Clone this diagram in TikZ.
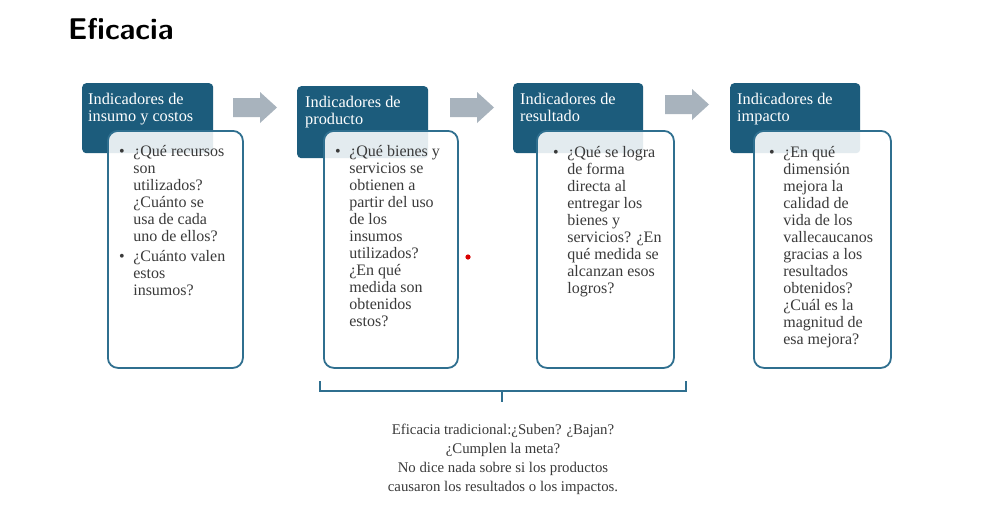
\documentclass[tikz,border=0pt]{standalone}
\usepackage{fontspec}
\newfontfamily\cardfont{Liberation Serif}
\begin{document}
\begin{tikzpicture}[x=1pt,y=-1pt,
  hdr/.style={draw=none,fill=hdrblue,rounded corners=4pt,anchor=north west,inner sep=0pt},
  bodybox/.style={draw=cardline,line width=1.8pt,fill=white,fill opacity=0.88,rounded corners=10pt,anchor=north west,inner sep=0pt},
  hdrtxt/.style={anchor=base west,inner sep=0pt,text=white,font=\cardfont\fontsize{16.3}{17}\selectfont},
  bodytxt/.style={anchor=base west,inner sep=0pt,text=txtgray,font=\cardfont\fontsize{16}{17}\selectfont},
  arrowfill/.style={fill=arrowgray,draw=none},
  bracestyle/.style={draw=cardline,line width=1.8pt}
]
\definecolor{hdrblue}{HTML}{1C5C7C}
\definecolor{cardline}{HTML}{2F6F8F}
\definecolor{arrowgray}{HTML}{A8B3BD}
\definecolor{txtgray}{HTML}{3A3A3A}
\useasboundingbox (0,0) rectangle (981,520);
\fill[white] (0,0) rectangle (981,520);

% title
\node[anchor=base west,inner sep=0pt,font=\fontsize{30}{33}\selectfont\sffamily\bfseries] (title) at (68,39) {Eficacia};

% headers
\node[hdr,minimum width=131pt,minimum height=70pt] (h1) at (82,83) {};
\node[hdr,minimum width=131pt,minimum height=72pt] (h2) at (297,86) {};
\node[hdr,minimum width=130pt,minimum height=70pt] (h3) at (513,83) {};
\node[hdr,minimum width=130pt,minimum height=70pt] (h4) at (730,83) {};

% bodies
\node[bodybox,minimum width=135pt,minimum height=237pt] (b1) at (107,130) {};
\node[bodybox,minimum width=134pt,minimum height=237pt] (b2) at (323,130) {};
\node[bodybox,minimum width=137pt,minimum height=237pt] (b3) at (536,130) {};
\node[bodybox,minimum width=137pt,minimum height=237pt] (b4) at (753,130) {};

% header texts
\node[hdrtxt] (t1) at (88,104) {\begin{tabular}[t]{@{}l@{}}Indicadores de\\insumo y costos\end{tabular}};
\node[hdrtxt] (t2) at (305,107) {\begin{tabular}[t]{@{}l@{}}Indicadores de\\producto\end{tabular}};
\node[hdrtxt] (t3) at (520,104) {\begin{tabular}[t]{@{}l@{}}Indicadores de\\resultado\end{tabular}};
\node[hdrtxt] (t4) at (737,104) {\begin{tabular}[t]{@{}l@{}}Indicadores de\\impacto\end{tabular}};

% arrows
\foreach \x/\y in {233/92, 450/92, 665/89}{
  \fill[arrowfill] (\x,\y+6) -- (\x+27,\y+6) -- (\x+27,\y) -- (\x+44,\y+15.5) -- (\x+27,\y+31) -- (\x+27,\y+25) -- (\x,\y+25) -- cycle;
}

% body texts
\node[bodytxt] (c1) at (119,156) {\begin{tabular}[t]{@{}l@{\hspace{8.5pt}}l@{}}
\textbullet & ¿Qué recursos\\ & son\\ & utilizados?\\ & ¿Cuánto se\\ & usa de cada\\ & uno de ellos?\\[3pt]
\textbullet & ¿Cuánto valen\\ & estos\\ & insumos?
\end{tabular}};
\node[bodytxt] (c2) at (335,156) {\begin{tabular}[t]{@{}l@{\hspace{8.5pt}}l@{}}
\textbullet & ¿Qué bienes y\\ & servicios se\\ & obtienen a\\ & partir del uso\\ & de los\\ & insumos\\ & utilizados?\\ & ¿En qué\\ & medida son\\ & obtenidos\\ & estos?
\end{tabular}};
\node[bodytxt] (c3) at (553,157) {\begin{tabular}[t]{@{}l@{\hspace{8.5pt}}l@{}}
\textbullet & ¿Qué se logra\\ & de forma\\ & directa al\\ & entregar los\\ & bienes y\\ & servicios? ¿En\\ & qué medida se\\ & alcanzan esos\\ & logros?
\end{tabular}};
\node[bodytxt] (c4) at (769,157) {\begin{tabular}[t]{@{}l@{\hspace{8.5pt}}l@{}}
\textbullet & ¿En qué\\ & dimensión\\ & mejora la\\ & calidad de\\ & vida de los\\ & vallecaucanos\\ & gracias a los\\ & resultados\\ & obtenidos?\\ & ¿Cuál es la\\ & magnitud de\\ & esa mejora?
\end{tabular}};

% red dot
\fill[red!85!black] (468,257) circle (2.6pt);

% bracket
\coordinate (bl) at (320,381);
\coordinate (br) at (686,381);
\coordinate (bm) at (502,391);
\coordinate (bt) at (502,402);
\draw[bracestyle] (bl) -- (320,391) -- (686,391) -- (br);
\draw[bracestyle] (bm) -- (bt);

% bottom text
\node[anchor=base,inner sep=0pt,text=txtgray,font=\cardfont\fontsize{14.8}{19.2}\selectfont] (note) at (503,434)
{\begin{tabular}[t]{@{}c@{}}Eficacia tradicional:¿Suben? ¿Bajan?\hspace{16pt}\\¿Cumplen la meta?\\No dice nada sobre si los productos\\causaron los resultados o los impactos.\end{tabular}};
\end{tikzpicture}
\end{document}
